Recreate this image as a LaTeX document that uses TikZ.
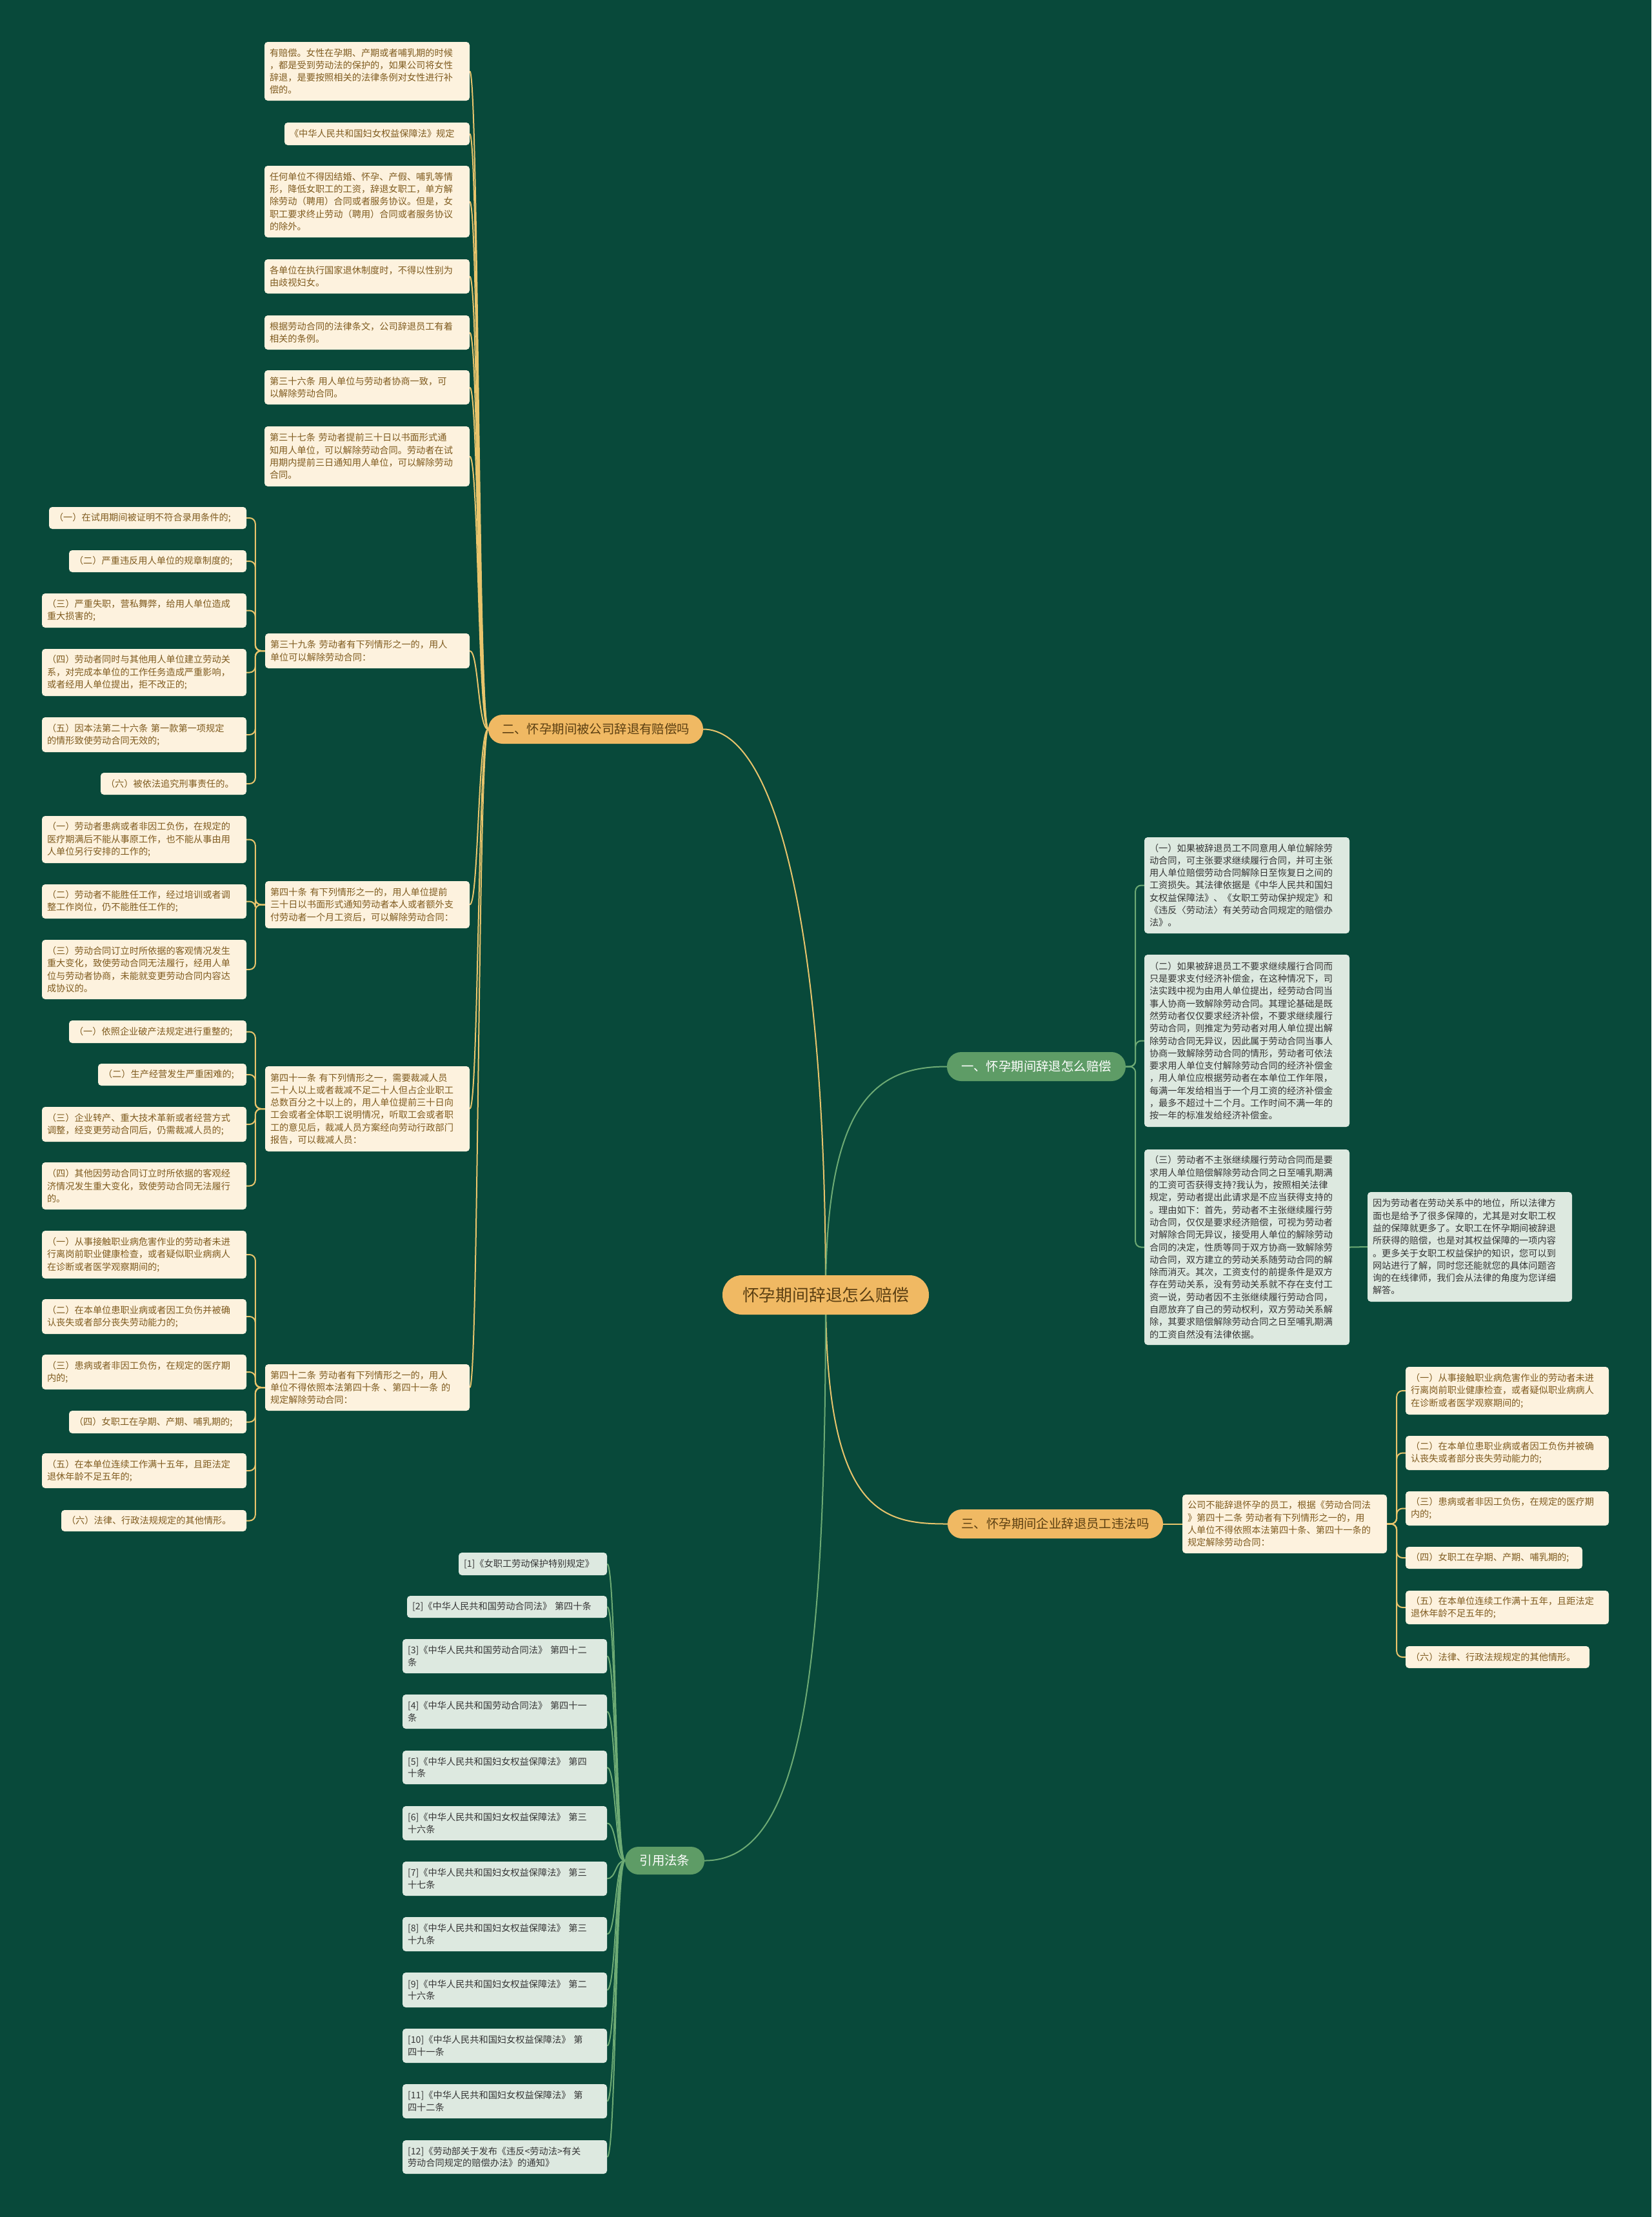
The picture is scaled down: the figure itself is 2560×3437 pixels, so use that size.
\documentclass[tikz,border=0pt]{standalone}
\usepackage{fontspec}
\setmainfont{Noto Sans CJK SC}
\usetikzlibrary{calc}
\definecolor{bgc}{HTML}{08493A}
\definecolor{cream}{HTML}{FDF2DE}
\definecolor{brownt}{HTML}{7F5B1F}
\definecolor{orangeb}{HTML}{F0B963}
\definecolor{yline}{HTML}{E8C46C}
\definecolor{greenb}{HTML}{5E9C66}
\definecolor{gline}{HTML}{6DAA74}
\definecolor{gbox}{HTML}{DDE9E0}
\definecolor{darkt}{HTML}{363636}
\definecolor{brdark}{HTML}{5B3F12}
\pgfdeclarelayer{back}
\pgfdeclarelayer{bg}
\pgfsetlayers{back,bg,main}
\tikzset{
  basebox/.style={align=left, inner xsep=8pt, inner ysep=1pt, rounded corners=5pt,
    font=\fontsize{14.2pt}{19.3pt}\selectfont},
  ybox/.style={basebox, fill=cream, text=brownt},
  gbx/.style={basebox, fill=gbox, text=darkt},
  refbox/.style={basebox, fill=gbox, text=darkt, font=\fontsize{14.2pt}{18.5pt}\selectfont},
  pillo/.style={fill=orangeb, text=brdark, font=\fontsize{19.4pt}{22pt}\selectfont},
  pillg/.style={fill=greenb, text=white, font=\fontsize{19.4pt}{22pt}\selectfont},
  pillc/.style={fill=orangeb, text=brdark, font=\fontsize{25.8pt}{30pt}\selectfont},
  ycon/.style={draw=yline, line width=2pt},
  gcon/.style={draw=gline, line width=2pt},
  brk/.style={rounded corners=9pt},
}
\newcommand\bx[7]{%
  \pgfmathsetmacro\myBW{#4-#2}\pgfmathsetmacro\myBH{#5-#3}\pgfmathsetmacro\myTW{#4-#2-16}%
  \node[#6, minimum width=\myBW pt, minimum height=\myBH pt, text width=\myTW pt] (#1) at ({(#2+#4)/2},{(#3+#5)/2}) {#7};}
\newcommand\pill[7]{%
  \pgfmathsetmacro\myBW{#4-#2}\pgfmathsetmacro\myBH{#5-#3}\pgfmathsetmacro\myRC{(#5-#3)/2-0.5}%
  \node[#6, inner sep=0pt, minimum width=\myBW pt, minimum height=\myBH pt, rounded corners=\myRC pt] (#1) at ({(#2+#4)/2},{(#3+#5)/2}) {#7};}
\begin{document}
\begin{tikzpicture}[x=1pt,y=-1pt]
\begin{pgfonlayer}{back}
\fill[bgc] (0,0) rectangle (2560,3437);
\end{pgfonlayer}
\useasboundingbox (0,0) rectangle (2560,3437);

% ---------- main nodes
\pill{ctr}{1120}{1977}{1440}{2038}{pillc}{怀孕期间辞退怎么赔偿}
\pill{br2}{757}{1108}{1090}{1153}{pillo}{二、怀孕期间被公司辞退有赔偿吗}
\pill{br1}{1468}{1631}{1745}{1676}{pillg}{一、怀孕期间辞退怎么赔偿}
\pill{br3}{1469}{2340}{1803}{2385}{pillo}{三、怀孕期间企业辞退员工违法吗}
\pill{brr}{969}{2863}{1092}{2906}{pillg}{引用法条}

% ---------- branch 二 children
\bx{t1}{410}{65}{728}{156}{ybox}{有赔偿。女性在孕期、产期或者哺乳期的时候\\，都是受到劳动法的保护的，如果公司将女性\\辞退，是要按照相关的法律条例对女性进行补\\偿的。}
\bx{t2}{441}{190}{728}{225}{ybox}{《中华人民共和国妇女权益保障法》规定}
\bx{t3}{410}{257}{728}{368}{ybox}{任何单位不得因结婚、怀孕、产假、哺乳等情\\形，降低女职工的工资，辞退女职工，单方解\\除劳动（聘用）合同或者服务协议。但是，女\\职工要求终止劳动（聘用）合同或者服务协议\\的除外。}
\bx{t4}{410}{402}{728}{455}{ybox}{各单位在执行国家退休制度时，不得以性别为\\由歧视妇女。}
\bx{t5}{410}{489}{728}{542}{ybox}{根据劳动合同的法律条文，公司辞退员工有着\\相关的条例。}
\bx{t6}{410}{574}{728}{627}{ybox}{第三十六条 用人单位与劳动者协商一致，可\\以解除劳动合同。}
\bx{t7}{410}{661}{728}{754}{ybox}{第三十七条 劳动者提前三十日以书面形式通\\知用人单位，可以解除劳动合同。劳动者在试\\用期内提前三日通知用人单位，可以解除劳动\\合同。}
\bx{m39}{411}{982}{728}{1036}{ybox}{第三十九条 劳动者有下列情形之一的，用人\\单位可以解除劳动合同：}
\bx{m40}{411}{1366}{728}{1439}{ybox}{第四十条 有下列情形之一的，用人单位提前\\三十日以书面形式通知劳动者本人或者额外支\\付劳动者一个月工资后，可以解除劳动合同：}
\bx{m41}{411}{1653}{728}{1785}{ybox}{第四十一条 有下列情形之一，需要裁减人员\\二十人以上或者裁减不足二十人但占企业职工\\总数百分之十以上的，用人单位提前三十日向\\工会或者全体职工说明情况，听取工会或者职\\工的意见后，裁减人员方案经向劳动行政部门\\报告，可以裁减人员：}
\bx{m42}{411}{2115}{728}{2187}{ybox}{第四十二条 劳动者有下列情形之一的，用人\\单位不得依照本法第四十条 、第四十一条 的\\规定解除劳动合同：}

% leaves of 39
\bx{a1}{76}{786}{382}{820}{ybox}{（一）在试用期间被证明不符合录用条件的;}
\bx{a2}{107}{853}{382}{887}{ybox}{（二）严重违反用人单位的规章制度的;}
\bx{a3}{65}{920}{382}{973}{ybox}{（三）严重失职，营私舞弊，给用人单位造成\\重大损害的;}
\bx{a4}{65}{1006}{382}{1079}{ybox}{（四）劳动者同时与其他用人单位建立劳动关\\系，对完成本单位的工作任务造成严重影响，\\或者经用人单位提出，拒不改正的;}
\bx{a5}{65}{1112}{382}{1166}{ybox}{（五）因本法第二十六条 第一款第一项规定\\的情形致使劳动合同无效的;}
\bx{a6}{156}{1198}{382}{1232}{ybox}{（六）被依法追究刑事责任的。}
% leaves of 40
\bx{b1}{65}{1265}{382}{1338}{ybox}{（一）劳动者患病或者非因工负伤，在规定的\\医疗期满后不能从事原工作，也不能从事由用\\人单位另行安排的工作的;}
\bx{b2}{65}{1371}{382}{1424}{ybox}{（二）劳动者不能胜任工作，经过培训或者调\\整工作岗位，仍不能胜任工作的;}
\bx{b3}{65}{1457}{382}{1549}{ybox}{（三）劳动合同订立时所依据的客观情况发生\\重大变化，致使劳动合同无法履行，经用人单\\位与劳动者协商，未能就变更劳动合同内容达\\成协议的。}
% leaves of 41
\bx{c1}{107}{1582}{382}{1617}{ybox}{（一）依照企业破产法规定进行重整的;}
\bx{c2}{152}{1649}{382}{1683}{ybox}{（二）生产经营发生严重困难的;}
\bx{c3}{65}{1716}{382}{1770}{ybox}{（三）企业转产、重大技术革新或者经营方式\\调整，经变更劳动合同后，仍需裁减人员的;}
\bx{c4}{65}{1802}{382}{1875}{ybox}{（四）其他因劳动合同订立时所依据的客观经\\济情况发生重大变化，致使劳动合同无法履行\\的。}
% leaves of 42
\bx{d1}{65}{1908}{382}{1982}{ybox}{（一）从事接触职业病危害作业的劳动者未进\\行离岗前职业健康检查，或者疑似职业病病人\\在诊断或者医学观察期间的;}
\bx{d2}{65}{2014}{382}{2068}{ybox}{（二）在本单位患职业病或者因工负伤并被确\\认丧失或者部分丧失劳动能力的;}
\bx{d3}{65}{2100}{382}{2154}{ybox}{（三）患病或者非因工负伤，在规定的医疗期\\内的;}
\bx{d4}{107}{2187}{382}{2222}{ybox}{（四）女职工在孕期、产期、哺乳期的;}
\bx{d5}{65}{2253}{382}{2307}{ybox}{（五）在本单位连续工作满十五年，且距法定\\退休年龄不足五年的;}
\bx{d6}{95}{2341}{382}{2374}{ybox}{（六）法律、行政法规规定的其他情形。}

% ---------- branch 一 children
\bx{g1}{1774}{1298}{2092}{1447}{gbx}{（一）如果被辞退员工不同意用人单位解除劳\\动合同，可主张要求继续履行合同，并可主张\\用人单位赔偿劳动合同解除日至恢复日之间的\\工资损失。其法律依据是《中华人民共和国妇\\女权益保障法》、《女职工劳动保护规定》和\\《违反〈劳动法〉有关劳动合同规定的赔偿办\\法》。}
\bx{g2}{1774}{1480}{2092}{1747}{gbx}{（二）如果被辞退员工不要求继续履行合同而\\只是要求支付经济补偿金，在这种情况下，司\\法实践中视为由用人单位提出，经劳动合同当\\事人协商一致解除劳动合同。其理论基础是既\\然劳动者仅仅要求经济补偿，不要求继续履行\\劳动合同，则推定为劳动者对用人单位提出解\\除劳动合同无异议，因此属于劳动合同当事人\\协商一致解除劳动合同的情形，劳动者可依法\\要求用人单位支付解除劳动合同的经济补偿金\\，用人单位应根据劳动者在本单位工作年限，\\每满一年发给相当于一个月工资的经济补偿金\\，最多不超过十二个月。工作时间不满一年的\\按一年的标准发给经济补偿金。}
\bx{g3}{1774}{1782}{2092}{2085}{gbx}{（三）劳动者不主张继续履行劳动合同而是要\\求用人单位赔偿解除劳动合同之日至哺乳期满\\的工资可否获得支持?我认为，按照相关法律\\规定，劳动者提出此请求是不应当获得支持的\\。理由如下：首先，劳动者不主张继续履行劳\\动合同，仅仅是要求经济赔偿，可视为劳动者\\对解除合同无异议，接受用人单位的解除劳动\\合同的决定，性质等同于双方协商一致解除劳\\动合同，双方建立的劳动关系随劳动合同的解\\除而消灭。其次，工资支付的前提条件是双方\\存在劳动关系，没有劳动关系就不存在支付工\\资一说，劳动者因不主张继续履行劳动合同，\\自愿放弃了自己的劳动权利，双方劳动关系解\\除，其要求赔偿解除劳动合同之日至哺乳期满\\的工资自然没有法律依据。}
\bx{note}{2120}{1848}{2437}{2018}{gbx}{因为劳动者在劳动关系中的地位，所以法律方\\面也是给予了很多保障的，尤其是对女职工权\\益的保障就更多了。女职工在怀孕期间被辞退\\所获得的赔偿，也是对其权益保障的一项内容\\。更多关于女职工权益保护的知识，您可以到\\网站进行了解，同时您还能就您的具体问题咨\\询的在线律师，我们会从法律的角度为您详细\\解答。}

% ---------- branch 三 children
\bx{y1}{1833}{2317}{2150}{2408}{ybox}{公司不能辞退怀孕的员工，根据《劳动合同法\\》第四十二条 劳动者有下列情形之一的，用\\人单位不得依照本法第四十条、第四十一条的\\规定解除劳动合同：}
\bx{r1}{2179}{2119}{2494}{2193}{ybox}{（一）从事接触职业病危害作业的劳动者未进\\行离岗前职业健康检查，或者疑似职业病病人\\在诊断或者医学观察期间的;}
\bx{r2}{2179}{2226}{2494}{2279}{ybox}{（二）在本单位患职业病或者因工负伤并被确\\认丧失或者部分丧失劳动能力的;}
\bx{r3}{2179}{2312}{2494}{2365}{ybox}{（三）患病或者非因工负伤，在规定的医疗期\\内的;}
\bx{r4}{2179}{2398}{2453}{2432}{ybox}{（四）女职工在孕期、产期、哺乳期的;}
\bx{r5}{2179}{2466}{2494}{2518}{ybox}{（五）在本单位连续工作满十五年，且距法定\\退休年龄不足五年的;}
\bx{r6}{2179}{2552}{2464}{2586}{ybox}{（六）法律、行政法规规定的其他情形。}

% ---------- references
\bx{f1}{711}{2407}{941}{2442}{refbox}{[1]《女职工劳动保护特别规定》}
\bx{f2}{631}{2474}{941}{2508}{refbox}{[2]《中华人民共和国劳动合同法》 第四十条}
\bx{f3}{624}{2541}{941}{2594}{refbox}{[3]《中华人民共和国劳动合同法》 第四十二\\条}
\bx{f4}{624}{2627}{941}{2680}{refbox}{[4]《中华人民共和国劳动合同法》 第四十一\\条}
\bx{f5}{624}{2714}{941}{2766}{refbox}{[5]《中华人民共和国妇女权益保障法》 第四\\十条}
\bx{f6}{624}{2800}{941}{2853}{refbox}{[6]《中华人民共和国妇女权益保障法》 第三\\十六条}
\bx{f7}{624}{2886}{941}{2939}{refbox}{[7]《中华人民共和国妇女权益保障法》 第三\\十七条}
\bx{f8}{624}{2972}{941}{3025}{refbox}{[8]《中华人民共和国妇女权益保障法》 第三\\十九条}
\bx{f9}{624}{3058}{941}{3112}{refbox}{[9]《中华人民共和国妇女权益保障法》 第二\\十六条}
\bx{f10}{624}{3145}{941}{3198}{refbox}{[10]《中华人民共和国妇女权益保障法》 第\\四十一条}
\bx{f11}{624}{3231}{941}{3284}{refbox}{[11]《中华人民共和国妇女权益保障法》 第\\四十二条}
\bx{f12}{624}{3318}{941}{3370}{refbox}{[12]《劳动部关于发布《违反<劳动法>有关\\劳动合同规定的赔偿办法》的通知》}

% ---------- connectors
\begin{pgfonlayer}{bg}
% center to branches
\draw[ycon] (ctr.center) .. controls ($(ctr.center)+(0,-580)$) and ($(br2.east)+(110,0)$) .. (br2.east);
\draw[gcon] (ctr.center) .. controls ($(ctr.center)+(0,-300)$) and ($(br1.west)+(-110,0)$) .. (br1.west);
\draw[ycon] (ctr.center) .. controls ($(ctr.center)+(0,340)$) and ($(br3.west)+(-100,0)$) .. (br3.west);
\draw[gcon] (ctr.center) .. controls ($(ctr.center)+(0,600)$) and ($(brr.east)+(150,0)$) .. (brr.east);
% branch 二 to its children
\foreach \c in {t1,t2,t3,t4,t5,t6,t7,m39,m40,m41,m42}
  \draw[ycon] (br2.west) .. controls ($(br2.west)+(-16,0)$) and ($(\c.east)+(14,0)$) .. (\c.east);
% brackets
\foreach \c in {a1,a2,a3,a4,a5,a6}
  \draw[ycon,brk] (m39.west) -- ++(-15,0) |- (\c.east);
\foreach \c in {b1,b2,b3}
  \draw[ycon,brk] (m40.west) -- ++(-15,0) |- (\c.east);
\foreach \c in {c1,c2,c3,c4}
  \draw[ycon,brk] (m41.west) -- ++(-15,0) |- (\c.east);
\foreach \c in {d1,d2,d3,d4,d5,d6}
  \draw[ycon,brk] (m42.west) -- ++(-15,0) |- (\c.east);
% branch 一
\foreach \c in {g1,g2,g3}
  \draw[gcon,brk] (br1.east) -- ++(15,0) |- (\c.west);
\draw[gcon] (g3.east) -- (note.west);
% branch 三
\draw[ycon] (br3.east) -- (y1.west);
\foreach \c in {r1,r2,r3,r4,r5,r6}
  \draw[ycon,brk] (y1.east) -- ++(15,0) |- (\c.west);
% references
\foreach \c in {f1,f2,f3,f4,f5,f6,f7,f8,f9,f10,f11,f12}
  \draw[gcon] (brr.west) .. controls ($(brr.west)+(-15,0)$) and ($(\c.east)+(14,0)$) .. (\c.east);
\end{pgfonlayer}
\end{tikzpicture}
\end{document}
